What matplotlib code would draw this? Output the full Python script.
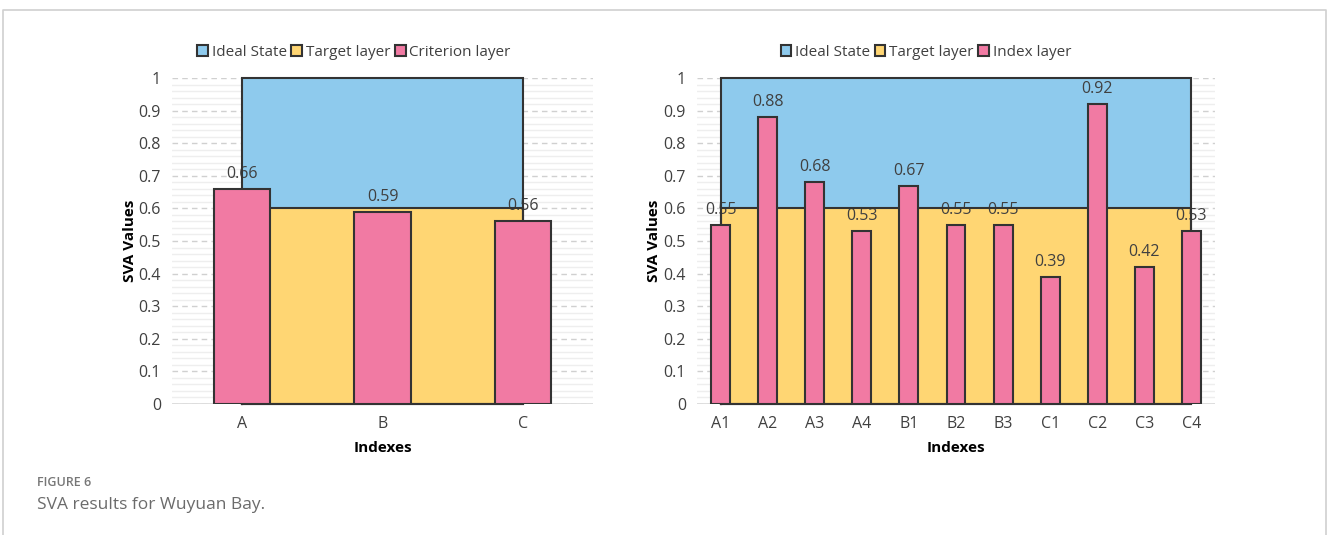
import matplotlib
matplotlib.use('Agg')
import matplotlib.pyplot as plt
from matplotlib.patches import Patch
from matplotlib.ticker import MultipleLocator, FuncFormatter

plt.rcParams['font.family'] = ['Open Sans', 'DejaVu Sans']

# data
criteria = ['A', 'B', 'C']
criterion_values = [0.66, 0.59, 0.56]
indexes = ['A1', 'A2', 'A3', 'A4', 'B1', 'B2', 'B3', 'C1', 'C2', 'C3', 'C4']
index_values = [0.55, 0.88, 0.68, 0.53, 0.67, 0.55, 0.55, 0.39, 0.92, 0.42, 0.53]
ideal_state = 1.0
target_layer = 0.6

BLUE = '#8ECAED'
YELLOW = '#FFD673'
PINK = '#F17AA3'
EDGE = '#333333'
TXT = '#404040'

fig = plt.figure(figsize=(13.28, 5.35), dpi=100)

# light frame around the figure (top, left, right)
fig.add_artist(plt.Line2D([3/1328, 3/1328, 1326/1328, 1326/1328],
                          [0, 1 - 10/535, 1 - 10/535, 0],
                          transform=fig.transFigure, color='#d0d0d0', lw=1.2))


def draw_panel(ax, cats, vals, bar_label, legend_x):
    n = len(cats)
    xs = list(range(n))
    span = [0, n - 1]
    # ideal and target areas
    ax.fill_between(span, 0, ideal_state, color=BLUE, lw=0, zorder=1.5)
    ax.fill_between(span, 0, target_layer, color=YELLOW, lw=0, zorder=1.6)
    # value labels (sit under the area outlines like in the original)
    for x, v in zip(xs, vals):
        ax.annotate(f'{v:.2f}', (x, v), xytext=(0, 5), textcoords='offset points',
                    ha='center', va='bottom', fontsize=11.5, color=TXT, zorder=1.7)
    for top in (ideal_state, target_layer):
        ax.plot([0, 0, n - 1, n - 1, 0], [0, top, top, 0, 0], color=EDGE,
                lw=1.5, zorder=1.8, clip_on=False, solid_joinstyle='miter')
    ax.bar(xs, vals, width=0.4, color=PINK, edgecolor=EDGE, linewidth=1.5, zorder=2)

    ax.set_xlim(-0.5, n - 0.5)
    ax.set_ylim(0, 1)
    ax.yaxis.set_major_locator(MultipleLocator(0.1))
    ax.yaxis.set_minor_locator(MultipleLocator(0.02))
    ax.yaxis.set_major_formatter(FuncFormatter(lambda v, p: f'{v:g}'))
    ax.grid(axis='y', which='major', color='#d0d0d0', ls=(0, (4, 3)), lw=1)
    ax.grid(axis='y', which='minor', color='#eeeeee', ls='-', lw=1)
    ax.axhline(0, color='#d9d9d9', lw=1.2, zorder=1)
    ax.set_axisbelow(True)
    for s in ax.spines.values():
        s.set_visible(False)
    ax.set_xticks(xs)
    ax.set_xticklabels(cats)
    ax.tick_params(axis='both', which='both', length=0, labelsize=11.5, labelcolor=TXT)
    ax.tick_params(axis='y', pad=8)
    ax.tick_params(axis='x', pad=9)
    ax.set_ylabel('SVA Values', fontsize=11, fontweight='bold', color='black')
    ax.set_xlabel('Indexes', fontsize=11, fontweight='bold', color='black')
    ax.xaxis.set_label_coords(0.5, -0.115)

    handles = [Patch(facecolor=BLUE, edgecolor=EDGE, lw=1.5, label='Ideal State'),
               Patch(facecolor=YELLOW, edgecolor=EDGE, lw=1.5, label='Target layer'),
               Patch(facecolor=PINK, edgecolor=EDGE, lw=1.5, label=bar_label)]
    leg = ax.legend(handles=handles, loc='center', bbox_to_anchor=(legend_x, 1.078), ncol=3,
                    frameon=False, fontsize=11, handlelength=0.7, handleheight=0.7,
                    handletextpad=0.25, columnspacing=0.3, borderaxespad=0)
    for t in leg.get_texts():
        t.set_color(TXT)


ax1 = fig.add_axes([172/1328, 1 - 404/535, 421/1328, 326/535])
draw_panel(ax1, criteria, criterion_values, 'Criterion layer', 0.432)
ax1.yaxis.set_label_coords(-0.083, 0.5)

ax2 = fig.add_axes([697/1328, 1 - 404/535, 518/1328, 326/535])
draw_panel(ax2, indexes, index_values, 'Index layer', 0.442)
ax2.yaxis.set_label_coords(-0.070, 0.5)

# caption
fig.text(37/1328, 1 - 482/535, 'FIGURE 6', fontsize=9, color='#777777', va='center',
         fontweight='semibold')
fig.text(37/1328, 1 - 505/535, 'SVA results for Wuyuan Bay.', fontsize=12.5, color='#6b6b6b',
         va='center')

plt.savefig('out.png', dpi=100)
plt.close()
